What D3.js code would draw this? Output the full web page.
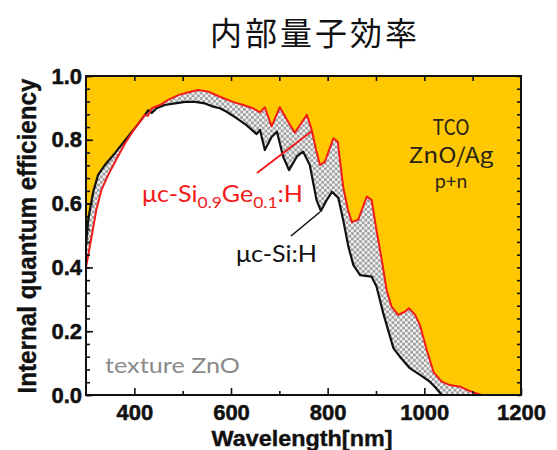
<!DOCTYPE html>
<html>
<head>
<meta charset="utf-8">
<script src="https://cdn.jsdelivr.net/npm/d3@7"></script>
<style>
  body { margin: 0; background: #fff; }
  svg { display: block; }
</style>
</head>
<body>
<svg id="chart" width="557" height="450"></svg>
<script>
// Internal quantum efficiency spectra: [wavelength nm, IQE]
const sigeCurve = [
  [300,0.40],[312,0.50],[322,0.585],[332,0.643],[346,0.69],[364,0.742],[381,0.789],
  [401,0.836],[422,0.878],[428,0.875],[436,0.899],[453,0.909],[470,0.925],[491,0.94],
  [512,0.949],[532,0.956],[553,0.951],[577,0.935],[604,0.919],[625,0.909],[645,0.899],
  [660,0.886],[670,0.902],[684,0.842],[701,0.902],[716,0.862],[732,0.822],[757,0.878],
  [767,0.831],[776,0.768],[784,0.721],[794,0.731],[812,0.805],[821,0.793],[832,0.653],
  [842,0.58],[850,0.542],[863,0.549],[881,0.622],[891,0.611],[901,0.517],[912,0.423],
  [922,0.329],[932,0.277],[946,0.251],[960,0.261],[968,0.272],[981,0.251],[991,0.219],
  [1005,0.141],[1019,0.072],[1036,0.042],[1053,0.031],[1074,0.026],[1088,0.016],
  [1105,0.006],[1119,0.0]
];
const siCurve = [
  [300,0.47],[305,0.554],[315,0.637],[325,0.69],[339,0.721],[360,0.758],[381,0.799],
  [401,0.836],[422,0.878],[429,0.893],[436,0.884],[446,0.899],[463,0.909],[484,0.914],
  [505,0.919],[526,0.919],[546,0.914],[563,0.904],[577,0.899],[591,0.888],[612,0.867],
  [632,0.846],[643,0.831],[653,0.818],[660,0.831],[670,0.768],[684,0.809],[695,0.825],
  [708,0.747],[720,0.705],[737,0.749],[749,0.763],[763,0.721],[777,0.611],[786,0.577],
  [798,0.611],[809,0.637],[822,0.618],[832,0.549],[843,0.465],[853,0.408],[867,0.376],
  [891,0.371],[901,0.34],[915,0.256],[925,0.204],[936,0.147],[950,0.119],[970,0.084],
  [991,0.063],[1012,0.041],[1024,0.022],[1036,0.0]
];
const xTickLabels = [400, 600, 800, 1000, 1200];
const xMinorTicks = [500, 700, 900, 1100];
const yTickLabels = [0, 0.2, 0.4, 0.6, 0.8, 1.0];
const yMinorTicks = d3.range(0, 1.001, 0.04).map(v => +v.toFixed(2));

const svg = d3.select("#chart");
const x = d3.scaleLinear().domain([300, 1200]).range([86, 521]);
const y = d3.scaleLinear().domain([0, 1]).range([395, 76]);

const defs = svg.append("defs");
const pat = defs.append("pattern").attr("id", "checker")
  .attr("patternUnits", "userSpaceOnUse").attr("width", 5.4).attr("height", 5.4);
pat.append("rect").attr("width", 5.4).attr("height", 5.4).attr("fill", "#f2f2f2");
pat.append("rect").attr("width", 2.7).attr("height", 2.7).attr("fill", "#a0a0a0");
pat.append("rect").attr("x", 2.7).attr("y", 2.7).attr("width", 2.7).attr("height", 2.7).attr("fill", "#a0a0a0");
defs.append("clipPath").attr("id", "plotClip").append("rect")
  .attr("x", 86).attr("y", 76).attr("width", 435).attr("height", 319);

// Title
svg.append("text").attr("x", 315).attr("y", 45).attr("text-anchor", "middle")
  .attr("font-family", "'Noto Sans CJK JP', sans-serif").attr("font-size", 32)
  .attr("letter-spacing", 3).attr("fill", "#111").text("内部量子効率");

const plot = svg.append("g").attr("clip-path", "url(#plotClip)");
plot.append("rect").attr("x", 86).attr("y", 76).attr("width", 435).attr("height", 319).attr("fill", "#ffc800");

const area = d3.area().x(d => x(d[0])).y0(y(0)).y1(d => y(d[1]));
const line = d3.line().x(d => x(d[0])).y(d => y(d[1]));

plot.append("path").datum(siCurve).attr("d", area).attr("fill", "#fff");
plot.append("path").datum(sigeCurve).attr("d", area).attr("fill", "#fff");
// Band between the two spectra
const band = sigeCurve.concat(siCurve.slice().reverse());
plot.append("path").attr("d", line(band) + "Z").attr("fill", "url(#checker)");

plot.append("path").datum(siCurve).attr("d", line).attr("fill", "none")
  .attr("stroke", "#111").attr("stroke-width", 2.2).attr("stroke-linejoin", "round");
plot.append("path").datum(sigeCurve).attr("d", line).attr("fill", "none")
  .attr("stroke", "#f21b1b").attr("stroke-width", 2).attr("stroke-linejoin", "round");

// Axes (ticks point inward)
const tickFont = g => g.selectAll("text")
  .attr("font-family", "'Liberation Sans', Arial, sans-serif").attr("font-weight", "bold")
  .attr("font-size", 22).attr("fill", "#111").attr("stroke", "#111").attr("stroke-width", 0.5);
const clean = g => { g.select(".domain").remove(); g.selectAll("line").attr("stroke", "#111").attr("stroke-width", 1.6); };

svg.append("g").attr("transform", "translate(0,395)")
  .call(d3.axisBottom(x).tickValues(xTickLabels).tickSizeInner(-7).tickSizeOuter(0)
    .tickPadding(9).tickFormat(d3.format("d")))
  .call(clean).call(tickFont);
svg.append("g").attr("transform", "translate(0,395)")
  .call(d3.axisBottom(x).tickValues(xMinorTicks).tickSize(-4).tickFormat(""))
  .call(clean);
svg.append("g").attr("transform", "translate(0,76)")
  .call(d3.axisTop(x).tickValues(d3.range(400, 1200, 100)).tickSize(-5).tickFormat(""))
  .call(clean);

svg.append("g").attr("transform", "translate(86,0)")
  .call(d3.axisLeft(y).tickValues(yTickLabels).tickSizeInner(-7).tickSizeOuter(0)
    .tickPadding(4).tickFormat(d3.format(".1f")))
  .call(clean).call(tickFont);
svg.append("g").attr("transform", "translate(86,0)")
  .call(d3.axisLeft(y).tickValues(yMinorTicks).tickSize(-4).tickFormat(""))
  .call(clean);
svg.append("g").attr("transform", "translate(521,0)")
  .call(d3.axisRight(y).tickValues(yMinorTicks).tickSize(-4).tickFormat(""))
  .call(clean);

// Frame
svg.append("rect").attr("x", 86).attr("y", 76).attr("width", 435).attr("height", 319)
  .attr("fill", "none").attr("stroke", "#111").attr("stroke-width", 2);

// Axis titles
svg.append("text").attr("x", 302).attr("y", 446).attr("text-anchor", "middle")
  .attr("font-family", "'Liberation Sans', Arial, sans-serif").attr("font-weight", "bold")
  .attr("font-size", 22).attr("textLength", 181).attr("lengthAdjust", "spacingAndGlyphs")
  .attr("fill", "#111").attr("stroke", "#111").attr("stroke-width", 0.4).text("Wavelength[nm]");
svg.append("text").attr("transform", "translate(36,236) rotate(-90)").attr("text-anchor", "middle")
  .attr("font-family", "'Liberation Sans', Arial, sans-serif").attr("font-weight", "bold")
  .attr("font-size", 26).attr("textLength", 315).attr("lengthAdjust", "spacingAndGlyphs")
  .attr("fill", "#111").attr("stroke", "#111").attr("stroke-width", 0.4).text("Internal quantum efficiency");

// Annotations
const ann = svg.append("g").attr("font-family", "Lato, 'Noto Sans', sans-serif");
ann.append("line").attr("x1", 312).attr("y1", 131).attr("x2", 257).attr("y2", 173)
  .attr("stroke", "#f21b1b").attr("stroke-width", 2);
ann.append("line").attr("x1", 320).attr("y1", 212).attr("x2", 291).attr("y2", 236)
  .attr("stroke", "#111").attr("stroke-width", 1.6);

const redLbl = ann.append("text").attr("x", 142).attr("y", 202).attr("font-size", 23).attr("fill", "#f21b1b")
  .attr("textLength", 161).attr("lengthAdjust", "spacingAndGlyphs");
redLbl.append("tspan").text("μc-Si");
redLbl.append("tspan").attr("font-size", 16).attr("dy", 6).text("0.9");
redLbl.append("tspan").attr("dy", -6).text("Ge");
redLbl.append("tspan").attr("font-size", 16).attr("dy", 6).text("0.1");
redLbl.append("tspan").attr("dy", -6).text(":H");

ann.append("text").attr("x", 236).attr("y", 262).attr("font-size", 23).attr("fill", "#111")
  .attr("textLength", 81).attr("lengthAdjust", "spacingAndGlyphs").text("μc-Si:H");
ann.append("text").attr("x", 105).attr("y", 373).attr("font-size", 22).attr("fill", "#8a8a8a")
  .attr("textLength", 135).attr("lengthAdjust", "spacingAndGlyphs").text("texture ZnO");

const tco = svg.append("g").attr("font-family", "'Noto Sans CJK JP', sans-serif").attr("fill", "#2a2418")
  .attr("text-anchor", "middle");
tco.append("text").attr("x", 451).attr("y", 135).attr("font-size", 22)
  .attr("textLength", 37).attr("lengthAdjust", "spacingAndGlyphs").text("TCO");
tco.append("text").attr("x", 451).attr("y", 163).attr("font-size", 21)
  .attr("textLength", 85).attr("lengthAdjust", "spacingAndGlyphs").text("ZnO/Ag");
tco.append("text").attr("x", 451).attr("y", 188).attr("font-size", 18)
  .attr("textLength", 33).attr("lengthAdjust", "spacingAndGlyphs").text("p+n");
</script>
</body>
</html>
